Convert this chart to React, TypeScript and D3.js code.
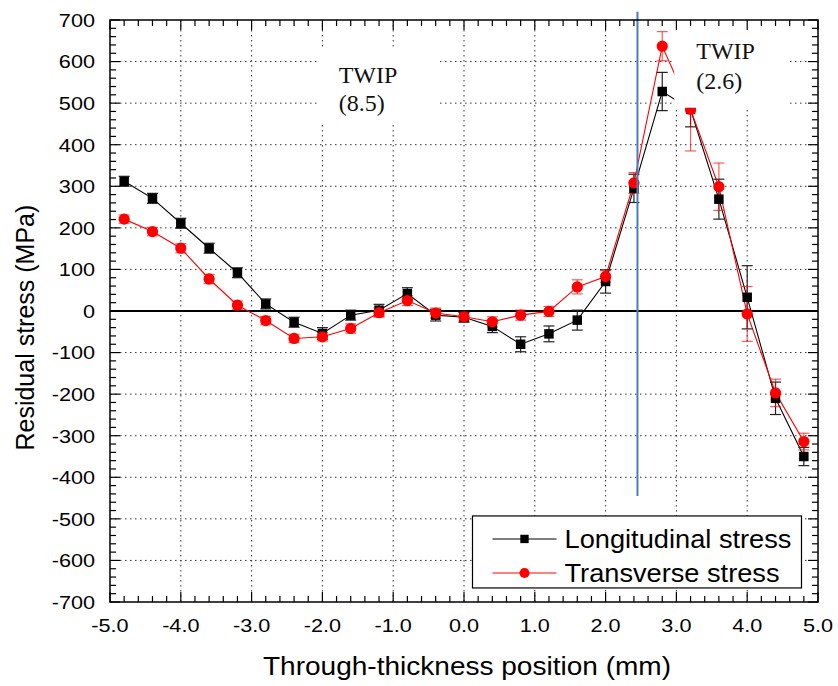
import React, { useEffect, useRef } from 'react';
import * as d3 from 'd3';

// through-thickness positions (mm)
const positions = [-4.8, -4.4, -4.0, -3.6, -3.2, -2.8, -2.4, -2.0, -1.6, -1.2, -0.8, -0.4, 0.0,
    0.4, 0.8, 1.2, 1.6, 2.0, 2.4, 2.8, 3.2, 3.6, 4.0, 4.4, 4.8];

const longitudinal = [312, 271, 211, 151, 92, 17, -27, -54, -10, 2, 42, -10, -15,
    -37, -80, -55, -22, 71, 295, 528, 485, 269, 33, -210, -350];
const longitudinalErr = [12, 12, 12, 12, 12, 12, 12, 14, 12, 14, 14, 14, 12,
    15, 18, 19, 24, 28, 34, 46, 42, 48, 76, 39, 22];

const transverse = [221, 191, 151, 77, 14, -23, -66, -62, -42, -4, 25, -5, -14,
    -26, -10, -1, 58, 83, 308, 637, 485, 299, -7, -197, -314];
const transverseErr = [10, 10, 11, 11, 10, 10, 10, 10, 11, 11, 12, 12, 10,
    12, 12, 12, 17, 14, 25, 35, 100, 57, 66, 33, 20];

const xTicks = [-5, -4, -3, -2, -1, 0, 1, 2, 3, 4, 5];
const yTicks = [700, 600, 500, 400, 300, 200, 100, 0, -100, -200, -300, -400, -500, -600, -700];

const seriesNames = ['Longitudinal stress', 'Transverse stress'];

const W = 838, H = 686;
const margin = { top: 20, right: 20, bottom: 84, left: 110 };

const App = () => {
    const ref = useRef(null);

    useEffect(() => {
        const svg = d3.select(ref.current);
        svg.selectAll('*').remove();

        const width = W - margin.left - margin.right;
        const height = H - margin.top - margin.bottom;

        const x = d3.scaleLinear().domain([-5, 5]).range([0, width]);
        const y = d3.scaleLinear().domain([-700, 700]).range([height, 0]);

        const g = svg.append('g').attr('transform', `translate(${margin.left},${margin.top})`);

        // dotted grid
        g.selectAll('.vgrid').data(xTicks.slice(1, -1)).enter().append('line')
            .attr('x1', d => x(d)).attr('x2', d => x(d)).attr('y1', 0).attr('y2', height)
            .attr('stroke', '#333').attr('stroke-width', 1).attr('stroke-dasharray', '1.5,3.5');
        g.selectAll('.hgrid').data(yTicks.slice(1, -1).filter(d => d !== 0)).enter().append('line')
            .attr('x1', 0).attr('x2', width).attr('y1', d => y(d)).attr('y2', d => y(d))
            .attr('stroke', '#333').attr('stroke-width', 1).attr('stroke-dasharray', '1.5,3.5');

        // zero line
        g.append('line').attr('x1', 0).attr('x2', width).attr('y1', y(0)).attr('y2', y(0))
            .attr('stroke', '#000').attr('stroke-width', 2);

        const series = [
            { vals: longitudinal, err: longitudinalErr, color: '#000', errColor: '#222', shape: 'square' },
            { vals: transverse, err: transverseErr, color: '#ff0000', errColor: 'rgba(255,0,0,0.65)', shape: 'circle' },
        ];

        const line = d3.line<number>().x((d, i) => x(positions[i])).y(d => y(d));

        series.forEach(s => {
            g.append('path').datum(s.vals).attr('d', line)
                .attr('fill', 'none').attr('stroke', s.color).attr('stroke-width', 1.1);
        });

        series.forEach(s => {
            const eb = g.append('g');
            s.vals.forEach((v, i) => {
                const cx = x(positions[i]);
                const y1 = y(v + s.err[i]), y2 = y(v - s.err[i]);
                eb.append('line').attr('x1', cx).attr('x2', cx).attr('y1', y1).attr('y2', y2)
                    .attr('stroke', s.errColor).attr('stroke-width', 1.2);
                [y1, y2].forEach(yy => eb.append('line').attr('x1', cx - 5.5).attr('x2', cx + 5.5)
                    .attr('y1', yy).attr('y2', yy).attr('stroke', s.errColor).attr('stroke-width', 1.2));
            });
        });

        series.forEach(s => {
            const sym = d3.symbol().type(s.shape === 'square' ? d3.symbolSquare : d3.symbolCircle)
                .size(s.shape === 'square' ? 90 : 100);
            g.selectAll(null).data(s.vals).enter().append('path')
                .attr('d', sym)
                .attr('transform', (d, i) => `translate(${x(positions[i])},${y(d)})`)
                .attr('fill', s.color);
        });

        // annotation boxes
        const notes = [
            { box: [-2.06, -0.38, 634, 449], tx: -1.77, lines: [['TWIP', 549], ['(8.5)', 480]] },
            { box: [2.97, 4.6, 700, 489], tx: 3.28, lines: [['TWIP', 605], ['(2.6)', 533]] },
        ];
        notes.forEach(n => {
            g.append('rect').attr('x', x(n.box[0])).attr('y', y(n.box[2]))
                .attr('width', x(n.box[1]) - x(n.box[0])).attr('height', y(n.box[3]) - y(n.box[2]))
                .attr('fill', '#fff');
            n.lines.forEach(([t, v]) => {
                g.append('text').attr('x', x(n.tx)).attr('y', y(v as number))
                    .attr('font-family', '"Liberation Serif", "Times New Roman", serif')
                    .attr('font-size', 24).attr('fill', '#111').text(t as string);
            });
        });

        // blue divider
        g.append('line').attr('x1', x(2.45)).attr('x2', x(2.45)).attr('y1', y(720)).attr('y2', y(-445))
            .attr('stroke', '#4a7ebb').attr('stroke-width', 2);

        // frame and ticks
        g.append('rect').attr('width', width).attr('height', height)
            .attr('fill', 'none').attr('stroke', '#000').attr('stroke-width', 1.5);

        const xMinor = d3.range(-5, 5.001, 0.2);
        const yMinor = d3.range(-700, 700.1, 20);
        const tk = g.append('g').attr('stroke', '#000').attr('stroke-width', 1.2);
        xMinor.forEach(v => {
            const major = Math.abs(v - Math.round(v)) < 1e-6;
            const len = major ? 10 : 6;
            tk.append('line').attr('x1', x(v)).attr('x2', x(v)).attr('y1', height).attr('y2', height - len);
            tk.append('line').attr('x1', x(v)).attr('x2', x(v)).attr('y1', 0).attr('y2', len);
        });
        yMinor.forEach(v => {
            const major = Math.abs(v % 100) < 1e-6;
            const len = major ? 10 : 6;
            tk.append('line').attr('y1', y(v)).attr('y2', y(v)).attr('x1', 0).attr('x2', len);
            tk.append('line').attr('y1', y(v)).attr('y2', y(v)).attr('x1', width).attr('x2', width - len);
        });

        // tick labels, slightly widened like the original
        const sans = '"Liberation Sans", Arial, sans-serif';
        g.selectAll('.xl').data(xTicks).enter().append('text')
            .attr('transform', d => `translate(${x(d)},${height + 30}) scale(1.14,1)`)
            .attr('text-anchor', 'middle').attr('font-family', sans).attr('font-size', 19)
            .text(d => d.toFixed(1));
        g.selectAll('.yl').data(yTicks).enter().append('text')
            .attr('transform', d => `translate(-15,${y(d)}) scale(1.14,1)`).attr('dy', '0.36em')
            .attr('text-anchor', 'end').attr('font-family', sans).attr('font-size', 19)
            .text(d => d);

        // axis titles
        g.append('text').attr('x', width / 2 + 3).attr('y', height + 73)
            .attr('text-anchor', 'middle').attr('font-family', sans).attr('font-size', 25)
            .attr('textLength', 408).attr('lengthAdjust', 'spacingAndGlyphs')
            .text('Through-thickness position (mm)');
        g.append('text').attr('transform', `translate(${-76},${y(-40)}) rotate(-90)`)
            .attr('text-anchor', 'middle').attr('font-family', sans).attr('font-size', 25)
            .text('Residual stress (MPa)');

        // legend
        const lg = g.append('g').attr('transform', `translate(${x(0.12)},${y(-493)})`);
        lg.append('rect').attr('width', 329).attr('height', 72)
            .attr('fill', '#fff').attr('stroke', '#000').attr('stroke-width', 1.2);
        series.forEach((s, i) => {
            const cy = 23 + i * 34;
            lg.append('line').attr('x1', 20).attr('x2', 84).attr('y1', cy).attr('y2', cy)
                .attr('stroke', s.color).attr('stroke-width', 1.1);
            const sym = d3.symbol().type(s.shape === 'square' ? d3.symbolSquare : d3.symbolCircle)
                .size(s.shape === 'square' ? 70 : 80);
            lg.append('path').attr('d', sym).attr('transform', `translate(52,${cy})`).attr('fill', s.color);
            lg.append('text').attr('x', 92).attr('y', cy + 9)
                .attr('font-family', sans).attr('font-size', 26)
                .attr('textLength', i === 0 ? 227 : 215).attr('lengthAdjust', 'spacingAndGlyphs')
                .text(seriesNames[i]);
        });
    }, []);

    return <svg ref={ref} width={W} height={H} style={{ display: 'block', position: 'absolute', left: 0, top: 0 }} />;
};

export default App;
